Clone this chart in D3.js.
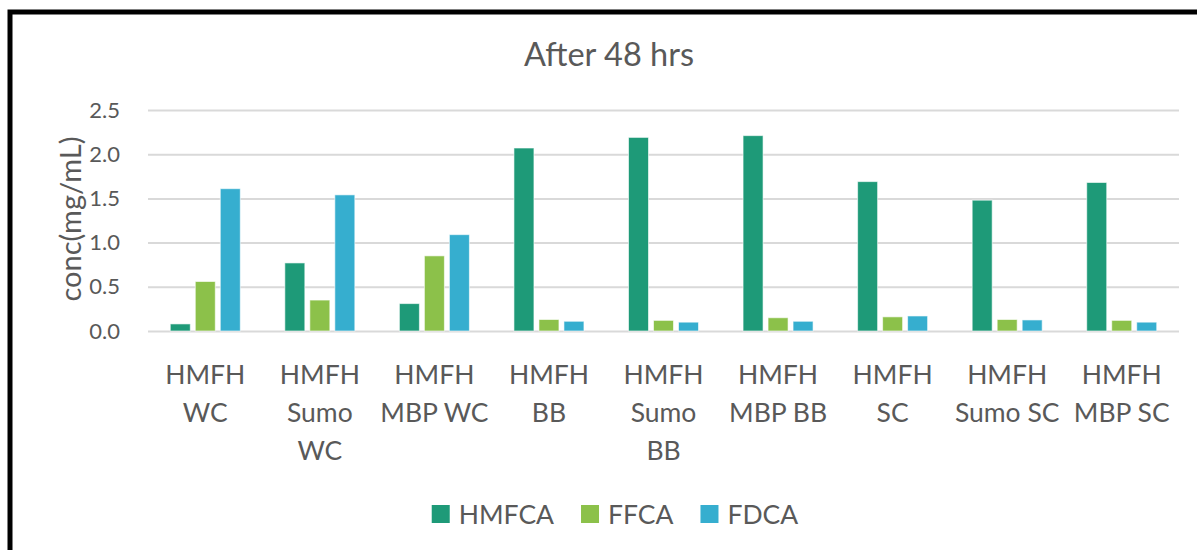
<!DOCTYPE html>
<html>
<head>
<meta charset="utf-8">
<script src="https://cdn.jsdelivr.net/npm/d3@7"></script>
<style>
  html, body { margin: 0; padding: 0; background: #fff; }
  svg { display: block; }
  text { font-family: Lato, "Open Sans", sans-serif; fill: #595959; }
</style>
</head>
<body>
<svg id="chart" width="1197" height="550"></svg>
<script>
// Sample groups, each label split into the lines it is shown on
const categories = [
  "HMFH WC", "HMFH Sumo WC", "HMFH MBP WC",
  "HMFH BB", "HMFH Sumo BB", "HMFH MBP BB",
  "HMFH SC", "HMFH Sumo SC", "HMFH MBP SC"
];
const categoryLines = [
  ["HMFH", "WC"], ["HMFH", "Sumo", "WC"], ["HMFH", "MBP WC"],
  ["HMFH", "BB"], ["HMFH", "Sumo", "BB"], ["HMFH", "MBP BB"],
  ["HMFH", "SC"], ["HMFH", "Sumo SC"], ["HMFH", "MBP SC"]
];

// Concentrations (mg/mL) after 48 hrs
const seriesNames = ["HMFCA", "FFCA", "FDCA"];
const hmfca = [0.08, 0.77, 0.31, 2.07, 2.19, 2.21, 1.69, 1.48, 1.68];
const ffca  = [0.56, 0.35, 0.85, 0.13, 0.12, 0.15, 0.16, 0.13, 0.12];
const fdca  = [1.61, 1.54, 1.09, 0.11, 0.10, 0.11, 0.17, 0.125, 0.10];
const seriesColors = ["#1e9a78", "#8cc14a", "#36aecf"];

const yTicks = [0, 0.5, 1.0, 1.5, 2.0, 2.5];

const seriesValues = [hmfca, ffca, fdca];
const rows = categories.map((c, i) => ({
  category: c,
  values: seriesNames.map((s, k) => ({ series: s, value: seriesValues[k][i] }))
}));

const svg = d3.select("#chart");

// Chart frame
svg.append("rect")
  .attr("x", 10).attr("y", 12)
  .attr("width", 1200).attr("height", 560)
  .attr("fill", "none")
  .attr("stroke", "#000")
  .attr("stroke-width", 5);

const plot = { left: 148, right: 1179, top: 110, bottom: 331 };

const x = d3.scaleBand().domain(categories).range([plot.left, plot.right]).padding(0);
const xSub = d3.scaleBand().domain(seriesNames).range([-35, 35]).paddingInner(0.2);
const y = d3.scaleLinear().domain([0, 2.5]).range([plot.bottom, plot.top]);
const color = d3.scaleOrdinal().domain(seriesNames).range(seriesColors);

// Gridlines and tick labels
const yAxis = d3.axisLeft(y)
  .tickValues(yTicks)
  .tickFormat(d3.format(".1f"))
  .tickSize(-(plot.right - plot.left))
  .tickPadding(28);

const gy = svg.append("g")
  .attr("transform", `translate(${plot.left},0)`)
  .call(yAxis);
gy.select(".domain").remove();
gy.selectAll(".tick line").attr("stroke", "#d9d9d9").attr("stroke-width", 2);
gy.selectAll(".tick text")
  .attr("fill", "#595959")
  .style("font-size", "22px");

// Bars
const groups = svg.append("g").selectAll("g")
  .data(rows)
  .join("g")
  .attr("transform", d => `translate(${x(d.category) + x.bandwidth() / 2},0)`);

groups.selectAll("rect")
  .data(d => d.values)
  .join("rect")
  .attr("x", d => xSub(d.series))
  .attr("width", xSub.bandwidth())
  .attr("y", d => y(d.value))
  .attr("height", d => y(0) - y(d.value))
  .attr("fill", d => color(d.series))
  .attr("stroke", "rgba(255,255,255,0.6)")
  .attr("stroke-width", 1);

// Category labels
const xAxis = d3.axisBottom(x).tickSize(0).tickFormat("");
const gx = svg.append("g")
  .attr("transform", `translate(0,${plot.bottom})`)
  .call(xAxis);
gx.select(".domain").remove();
gx.selectAll(".tick").each(function (d, i) {
  const t = d3.select(this).append("text")
    .attr("text-anchor", "middle")
    .style("font-size", "26.5px")
    .attr("fill", "#595959");
  categoryLines[i].forEach((line, j) => {
    t.append("tspan").attr("x", 0).attr("y", 52.5 + j * 38.3).text(line);
  });
});

// Title
svg.append("text")
  .attr("x", 609).attr("y", 66)
  .attr("text-anchor", "middle")
  .style("font-size", "32.5px")
  .text("After 48 hrs");

// Y-axis title
svg.append("text")
  .attr("transform", `translate(81,219) rotate(-90)`)
  .attr("text-anchor", "middle")
  .style("font-size", "29px")
  .text("conc(mg/mL)");

// Legend
const legend = svg.append("g");
let lx = 0;
seriesNames.forEach(s => {
  const g = legend.append("g").attr("transform", `translate(${lx},0)`);
  g.append("rect")
    .attr("x", 0).attr("y", 505)
    .attr("width", 18).attr("height", 18)
    .attr("fill", color(s));
  const t = g.append("text")
    .attr("x", 27).attr("y", 523.5)
    .style("font-size", "26.5px")
    .text(s);
  lx += 27 + t.node().getComputedTextLength() + 27;
});
const legendWidth = lx - 27;
legend.attr("transform", `translate(${615 - legendWidth / 2},0)`);
</script>
</body>
</html>
